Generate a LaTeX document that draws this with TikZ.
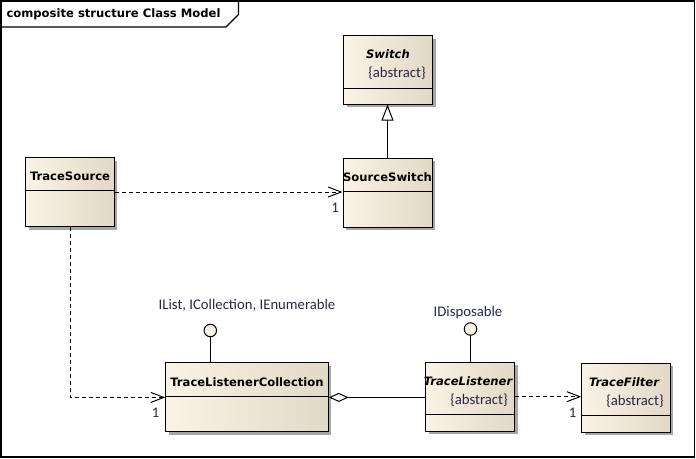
\documentclass[tikz,border=0pt]{standalone}
\usepackage{fontspec}
\setmainfont{DejaVu Sans}
\newfontfamily\namefont{DejaVu Sans}
\newfontfamily\notefont{Carlito}
\usetikzlibrary{arrows.meta,shadows}
\definecolor{classfill}{RGB}{251,243,229}
\definecolor{classedge}{RGB}{226,216,198}
\definecolor{notetext}{RGB}{36,40,76}

\begin{document}
\begin{tikzpicture}[x=1pt, y=-1pt, line width=1pt]
			\tikzset{classbox/.style={draw, inner sep=0pt, minimum width=89pt, minimum height=69pt, left color=classfill, right color=classedge, drop shadow={shadow xshift=3pt, shadow yshift=-3pt, fill=black!35, opacity=1}}}
			\tikzset{clsname/.style={inner sep=0pt, font=\namefont\bfseries\fontsize{11.6}{13}\selectfont}}
			\tikzset{absname/.style={clsname, font=\namefont\bfseries\itshape\fontsize{11.6}{13}\selectfont}}
			\tikzset{note/.style={inner sep=0pt, text=notetext, font=\notefont\fontsize{14.7}{16}\selectfont}}
			\tikzset{iface/.style={draw, circle, inner sep=0pt, minimum size=12.5pt, fill=classfill}}
			\tikzset{dep/.style={dash pattern=on 4pt off 3pt, -{Straight Barb[length=13pt, width=10pt]}}}
			\useasboundingbox (0,0) rectangle (696,458);
			
			\draw[line width=1.2pt] (1,1) rectangle (694.5,457);
			\draw[line width=1.2pt] (1,27) -- (226,27) -- (238.5,14.5) -- (238.5,1);
			\node[clsname, anchor=west] (title) at (6,14) {composite structure Class Model};
			
			\node[classbox, minimum height=68.5pt] (switch) at (388,69.8) {};
			\node[absname] (switch_n) at (388,54) {Switch};
			\node[note] (switch_a) at (397,73) {\{abstract\}};
			\draw (switch.west |- 0,88) -- (switch.east |- 0,88);
			
			\node[classbox] (ssw) at (387.5,192.7) {};
			\node[clsname] (ssw_n) at (387.5,177) {SourceSwitch};
			\draw (ssw.west |- 0,191.7) -- (ssw.east |- 0,191.7);
			
			\node[classbox, minimum width=88.5pt] (tsrc) at (70,192) {};
			\node[clsname] (tsrc_n) at (70,176) {TraceSource};
			\draw (tsrc.west |- 0,190.7) -- (tsrc.east |- 0,190.7);
			
			\node[classbox, minimum width=162.5pt] (tlc) at (247,397.4) {};
			\node[clsname] (tlc_n) at (247,382) {TraceListenerCollection};
			\draw (tlc.west |- 0,396.7) -- (tlc.east |- 0,396.7);
			
			\node[classbox] (tlst) at (470,396.7) {};
			\node[absname] (tlst_n) at (468,381) {TraceListener};
			\node[note] (tlst_a) at (479,400) {\{abstract\}};
			\draw (tlst.west |- 0,414) -- (tlst.east |- 0,414);
			
			\node[classbox, minimum width=88.5pt] (tflt) at (626,397.5) {};
			\node[absname] (tflt_n) at (624,382) {TraceFilter};
			\node[note] (tflt_a) at (635,401) {\{abstract\}};
			\draw (tflt.west |- 0,415.7) -- (tflt.east |- 0,415.7);
			
			\node[iface] (ilist) at (210.3,330.5) {};
			\node[iface] (idisp) at (470.5,329) {};
			\node[note] (ilist_l) at (247,305.5) {IList, ICollection, IEnumerable};
			\node[note] (idisp_l) at (468,312.5) {IDisposable};
			\draw (ilist.south) -- (ilist.south |- tlc.north);
			\draw (idisp.south) -- (idisp.south |- tlst.north);
			
			\draw[-{Triangle[length=16pt, width=12pt, fill=white]}] (ssw.north) -- (ssw.north |- switch.south);
			\draw[dep] (tsrc.east) -- (tsrc.east -| ssw.west);
			\draw[dep] (tsrc.south) |- (tlc.west);
			\draw[{Diamond[length=20pt, width=9pt, fill=white]}-] (tlc.east) -- (tlc.east -| tlst.west);
			\draw[dep] (tlst.east) -- (tlst.east -| tflt.west);
			\node[note] (m_ssw) at (335,207.5) {1};
			\node[note] (m_tlc) at (155.5,413) {1};
			\node[note] (m_tflt) at (572.5,412.5) {1};
			
		\end{tikzpicture}
\end{document}
